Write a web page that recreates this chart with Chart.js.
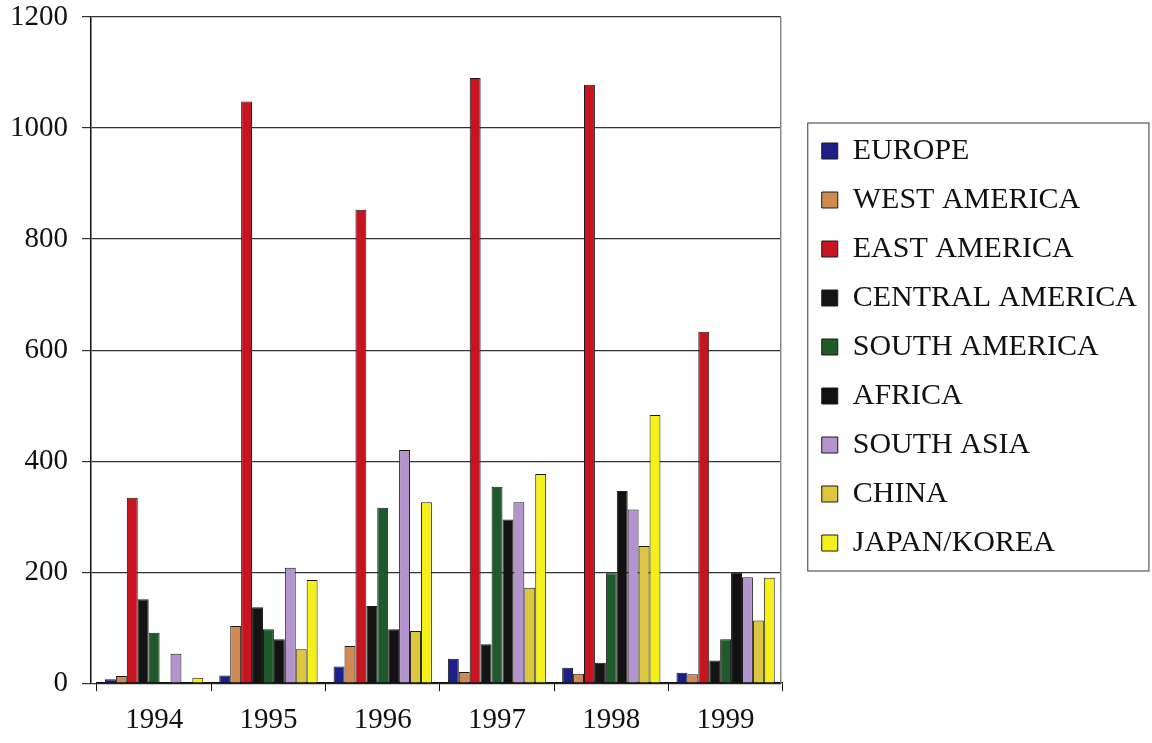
<!DOCTYPE html>
<html>
<head>
<meta charset="utf-8">
<script src="https://cdn.jsdelivr.net/npm/chart.js@4/dist/chart.umd.min.js"></script>
<style>
  html, body { margin: 0; padding: 0; background: #fff; }
  #wrap { width: 1152px; height: 743px; position: relative; }
</style>
</head>
<body>
<div id="wrap"><canvas id="c" width="1152" height="743"></canvas></div>
<script>
// Yearly values by region
const years = ['1994', '1995', '1996', '1997', '1998', '1999'];
const yTicks = [0, 200, 400, 600, 800, 1000, 1200];

const europe         = [7, 14, 30, 44, 28, 19];
const westAmerica    = [13, 103, 67, 20, 17, 16];
const eastAmerica    = [334, 1048, 853, 1090, 1078, 633];
const centralAmerica = [151, 137, 139, 70, 37, 41];
const southAmerica   = [91, 97, 316, 354, 198, 79];
const africa         = [0, 79, 97, 295, 346, 199];
const southAsia      = [53, 208, 420, 326, 313, 191];
const china          = [0, 61, 94, 172, 247, 113];
const japanKorea     = [10, 186, 326, 377, 483, 190];

const series = [
  ['EUROPE', europe, '#1c1f8a'],
  ['WEST AMERICA', westAmerica, '#cf8a52'],
  ['EAST AMERICA', eastAmerica, '#c8141e'],
  ['CENTRAL AMERICA', centralAmerica, '#141414'],
  ['SOUTH AMERICA', southAmerica, '#1f5a2a'],
  ['AFRICA', africa, '#121212'],
  ['SOUTH ASIA', southAsia, '#b394cc'],
  ['CHINA', china, '#dcc63e'],
  ['JAPAN/KOREA', japanKorea, '#f6f01a']
];

const serif = "'Liberation Serif', 'Times New Roman', serif";

// Nudges the category band and the legend block; draws the legend frame and the plot frame
const frames = {
  id: 'frames',
  afterLayout(chart) {
    const x = chart.scales.x;
    if (x) {
      x.left += 6;
      x.right += 2;
      x.configure();
    }
    const lg = chart.legend;
    if (!lg) return;
    const dx = 22, dy = -28;
    lg.left += dx;
    lg.right = chart.width;
    lg.top += dy; lg.bottom += dy;
  },
  afterDraw(chart) {
    const ctx = chart.ctx;
    const a = chart.chartArea;
    ctx.save();
    ctx.strokeStyle = '#8a8a8a';
    ctx.lineWidth = 1.5;
    ctx.beginPath();
    ctx.moveTo(a.right, a.top);
    ctx.lineTo(a.right, a.bottom);
    ctx.stroke();
    const lg = chart.legend;
    if (lg && lg.legendHitBoxes && lg.legendHitBoxes.length) {
      const hb = lg.legendHitBoxes;
      let l = Infinity, t = Infinity, r = -Infinity, b = -Infinity;
      hb.forEach(h => {
        l = Math.min(l, h.left); t = Math.min(t, h.top);
        r = Math.max(r, h.left + h.width); b = Math.max(b, h.top + h.height);
      });
      ctx.strokeStyle = '#555';
      ctx.lineWidth = 1.2;
      ctx.strokeRect(l - 14, t - 13, (r - l) + 26, (b - t) + 26);
    }
    ctx.restore();
  }
};

new Chart(document.getElementById('c'), {
  type: 'bar',
  data: {
    labels: years,
    datasets: series.map(([label, data, color]) => ({
      label,
      data,
      backgroundColor: color,
      borderColor: '#1a1a1a',
      borderWidth: 1,
      borderSkipped: 'bottom',
      barPercentage: 1.0,
      categoryPercentage: 0.86
    }))
  },
  options: {
    responsive: false,
    animation: false,
    devicePixelRatio: 1,
    layout: { padding: { left: 0, right: 111, top: 0, bottom: -7 } },
    plugins: {
      legend: {
        position: 'right',
        labels: {
          font: { family: serif, size: 30 },
          color: '#111',
          boxWidth: 16,
          boxHeight: 16,
          padding: 19
        }
      },
      tooltip: { enabled: false }
    },
    scales: {
      x: {
        offset: true,
        grid: {
          offset: true,
          drawOnChartArea: false,
          drawTicks: true,
          tickLength: 8,
          color: '#111'
        },
        border: { color: '#111', width: 1.5 },
        ticks: {
          font: { family: serif, size: 29 },
          color: '#111',
          padding: 12
        }
      },
      y: {
        min: 0,
        max: 1200,
        afterBuildTicks(scale) { scale.ticks = yTicks.map(v => ({ value: v })); },
        afterFit(scale) {
          scale.width = 91;
          scale.paddingTop = 17;
        },
        grid: {
          color: '#333',
          lineWidth: 1.2,
          tickLength: 9
        },
        border: { color: '#111', width: 1.5 },
        ticks: {
          font: { family: serif, size: 29 },
          color: '#111',
          padding: 14,
          callback: v => String(v)
        }
      }
    }
  },
  plugins: [frames]
});
</script>
</body>
</html>
